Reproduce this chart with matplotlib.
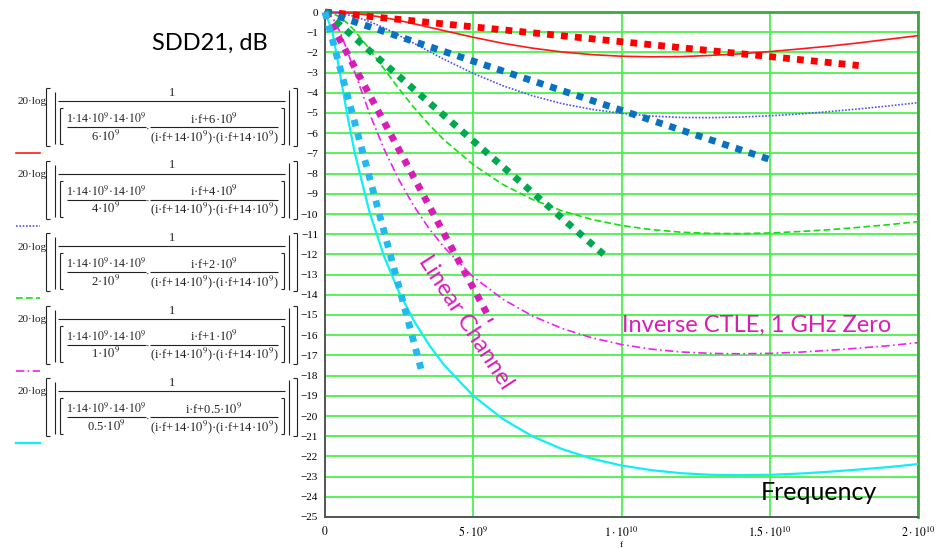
import matplotlib
matplotlib.use("Agg")
import matplotlib.pyplot as plt

plt.rcParams["mathtext.fontset"] = "stix"

# frequency grid (GHz) and the inverse-CTLE responses in dB, one list per zero
freq_ghz = [0, 0.25, 0.5, 0.75, 1, 1.5, 2, 2.5, 3, 3.5, 4, 5, 6, 7, 8, 9, 10,
            11, 12, 13, 14, 15, 16, 17, 18, 19, 20]
ctle_6g = [0.00, -0.00, -0.02, -0.04, -0.07, -0.16, -0.28, -0.42, -0.58, -0.75,
           -0.92, -1.25, -1.55, -1.79, -1.98, -2.11, -2.19, -2.22, -2.21, -2.15,
           -2.07, -1.96, -1.83, -1.69, -1.53, -1.35, -1.17]
ctle_4g = [0.00, -0.01, -0.06, -0.13, -0.22, -0.47, -0.79, -1.16, -1.55, -1.94,
           -2.33, -3.04, -3.65, -4.15, -4.54, -4.82, -5.02, -5.15, -5.22, -5.23,
           -5.20, -5.14, -5.05, -4.93, -4.80, -4.65, -4.49]
ctle_2g = [0.00, -0.06, -0.25, -0.55, -0.92, -1.84, -2.83, -3.81, -4.73, -5.56,
           -6.31, -7.56, -8.54, -9.28, -9.85, -10.27, -10.57, -10.77, -10.90,
           -10.96, -10.97, -10.94, -10.87, -10.78, -10.66, -10.53, -10.38]
ctle_1g = [0.00, -0.26, -0.96, -1.91, -2.97, -5.02, -6.81, -8.33, -9.61, -10.70,
           -11.62, -13.11, -14.22, -15.05, -15.67, -16.13, -16.46, -16.69,
           -16.83, -16.90, -16.92, -16.90, -16.84, -16.75, -16.64, -16.52, -16.37]
ctle_05g = [0.00, -0.97, -3.00, -5.09, -6.95, -9.90, -12.13, -13.88, -15.29,
            -16.46, -17.45, -19.00, -20.15, -21.01, -21.64, -22.11, -22.45,
            -22.68, -22.83, -22.91, -22.93, -22.91, -22.85, -22.76, -22.65,
            -22.53, -22.38]
zero_labels = ["6", "4", "2", "1", "0.5"]

# straight-line channel losses: end point of each line (start is 0 Hz, 0 dB)
chan_end_ghz = [18.0, 15.0, 9.4, 5.6, 3.3]
chan_end_db = [-2.65, -7.3, -12.0, -15.3, -18.0]

x_ticks = [0, 5e9, 1e10, 1.5e10, 2e10]
x_tick_labels = ["$0$", r"$5\cdot10^{9}$", r"$1\cdot10^{10}$",
                 r"$1.5\cdot10^{10}$", r"$2\cdot10^{10}$"]

W, H = 946, 548
fig = plt.figure(figsize=(W / 100, H / 100), dpi=100)
ax = fig.add_axes([325 / W, 1 - 517 / H, 593 / W, 505 / H])

GRID = "#4CF04C"
thin = [
    dict(color="#FF1818", ls="-", lw=1.2),
    dict(color="#5050FF", ls=(0, (1, 1)), lw=1.2),
    dict(color="#10E010", ls=(0, (4, 2)), lw=1.2),
    dict(color="#F020F0", ls=(0, (5, 2, 1, 2)), lw=1.2),
    dict(color="#10F0F0", ls="-", lw=1.6),
]
thick_colors = ["#FF0000", "#0A70C0", "#00A850", "#D81CB8", "#22B8F0"]

fhz = [v * 1e9 for v in freq_ghz]
for ys, st in zip([ctle_6g, ctle_4g, ctle_2g, ctle_1g, ctle_05g], thin):
    ax.plot(fhz, ys, color=st["color"], ls=st["ls"], lw=st["lw"], zorder=3)

for fe, de, c in zip(chan_end_ghz, chan_end_db, thick_colors):
    ax.plot([0, fe * 1e9], [0, de], color=c, lw=4.9, ls=(0, (1, 1.05)),
            solid_capstyle="butt", dash_capstyle="butt", zorder=4, clip_on=False)

ax.set_xlim(0, 2e10)
ax.set_ylim(-25, 0)
ax.set_yticks(range(-25, 1))
ax.set_yticklabels([str(v).replace("-", "\u2212") for v in range(-25, 1)],
                   family="Liberation Serif", fontsize=8)
ax.set_xticks(x_ticks)
ax.set_xticklabels(x_tick_labels, fontsize=8.5)
ax.tick_params(length=0, pad=5)
ax.tick_params(axis="x", pad=6)
ax.grid(True, color=GRID, lw=1.3, zorder=1)
ax.set_axisbelow(True)
for side in ["left", "bottom"]:
    ax.spines[side].set_color("#555555")
    ax.spines[side].set_linewidth(1.4)
for side in ["top", "right"]:
    ax.spines[side].set_color("#3DA83D")
    ax.spines[side].set_linewidth(2.0)

# overlay in pixel units for the labels and the worksheet expressions
ov = fig.add_axes([0, 0, 1, 1], facecolor="none")
ov.set_xlim(0, W)
ov.set_ylim(H, 0)
ov.axis("off")
ov.set_zorder(5)

MAG = "#D91EB8"
ov.text(210, 43, "SDD21, dB", ha="center", va="center", family="Lato",
        fontsize=17, color="black")
ov.text(819, 493, "Frequency", ha="center", va="center", family="Lato",
        fontsize=18, color="black")
ov.text(757, 325, "Inverse CTLE, 1 GHz Zero", ha="center", va="center",
        family="Lato", fontsize=17, color=MAG)
ov.text(466, 322, "Linear Channel", ha="center", va="center", family="Lato",
        fontsize=17, color=MAG, rotation=-57, rotation_mode="anchor")
ov.text(621, 545, "f", ha="center", va="center", family="Liberation Serif",
        fontsize=6.5)

INK = "#222222"


def seg(x0, y0, x1, y1, lw=0.8):
    ov.plot([x0, x1], [y0, y1], color=INK, lw=lw, solid_capstyle="butt")


def bracket(x, y0, y1, inward):
    seg(x, y0, x, y1)
    seg(x, y0, x + inward, y0)
    seg(x, y1, x + inward, y1)


def serif_text(x, y, s, size=9):
    ov.text(x, y, s, ha="center", va="center", fontsize=size,
            family="Liberation Serif", color=INK)


# one expression block per zero, with its line sample underneath
for i, (z, st) in enumerate(zip(zero_labels, thin)):
    T = 88 + 72.5 * i
    ov.text(18, T + 14, "20\u00b7log", ha="left", va="center", fontsize=8,
            family="Liberation Serif", color=INK)
    bracket(46, T, T + 58, 4)
    seg(55, T + 4, 55, T + 56)
    seg(58, T + 13, 285, T + 13)
    serif_text(172, T + 5, "1")
    bracket(60, T + 20, T + 56, 3)
    serif_text(106, T + 31, "1\u00b714\u00b7$10^{9}$\u00b714\u00b7$10^{9}$",
               size=8.6)
    seg(67, T + 39, 146, T + 39)
    serif_text(106, T + 48, z + "\u00b7$10^{9}$")
    serif_text(148, T + 41, "\u00b7", size=8)
    serif_text(214, T + 31, "i\u00b7f+" + z + "\u00b7$10^{9}$")
    seg(150, T + 39, 278, T + 39)
    serif_text(214, T + 49,
               "(i\u00b7f+14\u00b7$10^{9}$)\u00b7(i\u00b7f+14\u00b7$10^{9}$)")
    bracket(284, T + 20, T + 56, -3)
    seg(289, T + 2, 289, T + 57)
    bracket(297, T, T + 58, -4)
    ov.plot([16, 40], [T + 65, T + 65], color=st["color"], ls=st["ls"],
            lw=st["lw"])

fig.savefig("out.png", dpi=100)
